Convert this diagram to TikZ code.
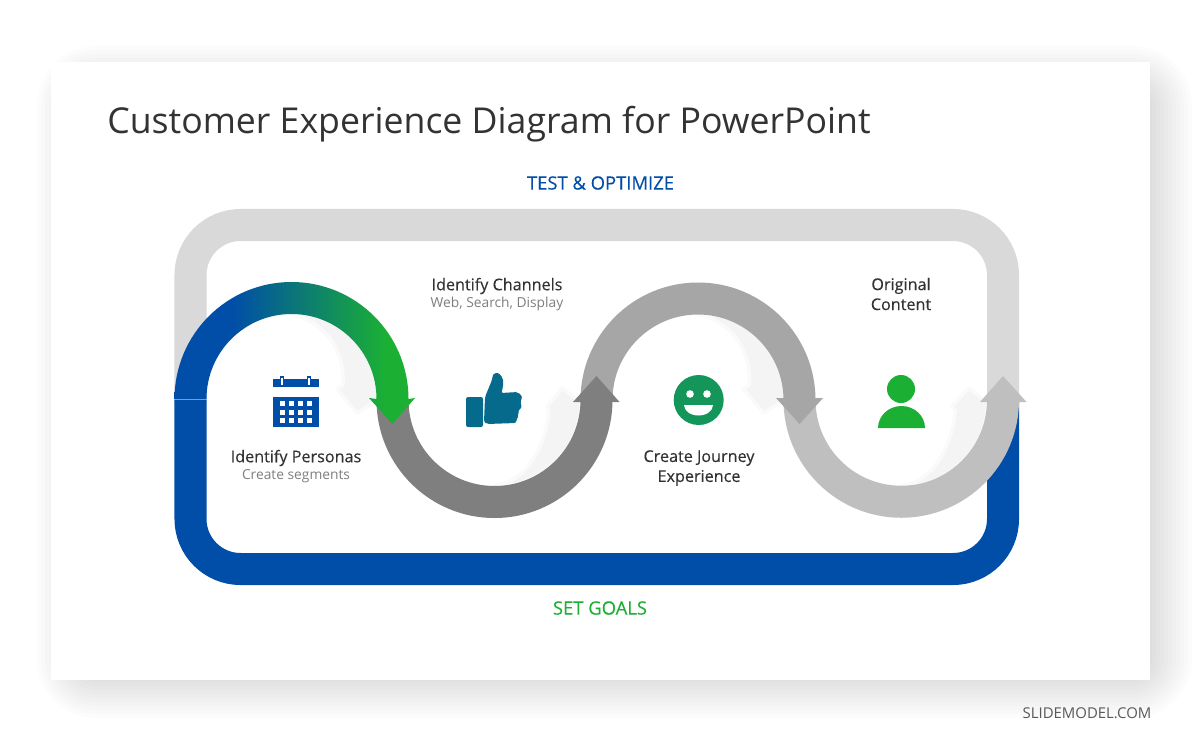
\documentclass[tikz,border=0pt]{standalone}
\usepackage{fontspec}
\setmainfont{Open Sans}
\newfontfamily\labelfont[FakeBold=0.25]{Open Sans}
\definecolor{archblue}{HTML}{004EA8}
\definecolor{archgreen}{HTML}{1BB034}
\definecolor{loopgray}{HTML}{D9D9D9}
\definecolor{darkgray}{HTML}{7F7F7F}
\definecolor{midgray}{HTML}{A6A6A6}
\definecolor{lightgray}{HTML}{BFBFBF}
\definecolor{ghostgray}{HTML}{F4F4F4}
\definecolor{ghostedge}{HTML}{FAFAFA}
\definecolor{inktext}{HTML}{333333}
\definecolor{subtext}{HTML}{7F7F7F}
\definecolor{thumbblue}{HTML}{066A8C}
\definecolor{smilegreen}{HTML}{14965A}
\pgfdeclarehorizontalshading{archshade}{100bp}{color(0bp)=(archblue); color(37bp)=(archblue); color(69bp)=(archgreen); color(100bp)=(archgreen)}
\tikzset{
    band/.style={draw=#1, line width=0.8cm},
    ghost/.style={fill=ghostgray, draw=ghostedge, line width=2.5pt, line join=round},
    heading/.style={font=\labelfont\fontsize{11.5}{14.2}\selectfont, text=inktext, align=center, inner sep=0},
    subheading/.style={font=\fontsize{9.8}{12}\selectfont, text=subtext, align=center, inner sep=0},
    looplabel/.style={font=\labelfont\fontsize{13.1}{15}\selectfont, inner sep=0}
}
\begin{document}
\begin{tikzpicture}[x=0.025cm, y=-0.025cm]
    \useasboundingbox (0, 0) rectangle (1200, 743);
    % slide and its shadow
    \foreach \e in {-28,-24,...,28} {
        \fill[black, opacity=0.012, rounded corners={(\e+32)*0.7pt}] (65-\e, 74-\e) rectangle (1164+\e, 690+\e);
    }
    \fill[white] (51, 62) rectangle (1150, 680);
    \node (title) at (107, 124) [anchor=west, inner sep=0, text=inktext, font=\fontsize{25.35}{30}\selectfont] {Customer Experience Diagram for PowerPoint};
    \node (testlabel) at (600.5, 183) [looplabel, text=archblue] {TEST \& OPTIMIZE};
    \node (goalslabel) at (600, 608) [looplabel, text=archgreen] {SET GOALS};
    \node (credit) at (1087, 713) [inner sep=0, text=black!65, font=\fontsize{10.6}{12}\selectfont] {SLIDEMODEL.COM};
    % outer loop
    \draw[band=loopgray] (190.5, 402) -- (190.5, 275) arc[start angle=180, end angle=270, radius=50] -- (953, 225) arc[start angle=270, end angle=360, radius=50] -- (1003, 402);
    \draw[band=archblue] (190.5, 399.7) -- (190.5, 519) arc[start angle=180, end angle=90, radius=50] -- (953, 569) arc[start angle=90, end angle=0, radius=50] -- (1003, 400);
    % soft shadows inside the curves
    \filldraw[ghost] (291.5, 314) .. controls (325, 322) and (345, 350) .. (343, 385) -- (337, 389) -- (357, 413) -- (381, 398) .. controls (381, 349) and (341, 312) .. cycle;
    \filldraw[ghost] (698, 314) .. controls (731.5, 322) and (751.5, 350) .. (749.5, 385) -- (743.5, 389) -- (763.5, 413) -- (787.5, 398) .. controls (787.5, 349) and (747.5, 312) .. cycle;
    \filldraw[ghost] (494.5, 486) .. controls (525, 482) and (545, 450) .. (549, 410) -- (547, 407) -- (562, 388) -- (581, 402) .. controls (581, 450) and (540, 488) .. cycle;
    \filldraw[ghost] (901, 486) .. controls (931.5, 482) and (951.5, 450) .. (955.5, 410) -- (951.5, 407) -- (968.5, 388) -- (987.5, 402) .. controls (987.5, 450) and (946.5, 488) .. cycle;
    % the four curved arrows
    \draw[band=lightgray] (799.5, 400) arc[start angle=180, end angle=0, radius=101.75];
    \fill[lightgray] (980, 402) -- (1003, 376) -- (1026.5, 402) -- cycle;
    \draw[band=midgray] (596.5, 400) arc[start angle=180, end angle=360, radius=101.5];
    \fill[midgray] (776, 398) -- (823, 398) -- (799.5, 424) -- cycle;
    \draw[band=darkgray] (392.5, 400) arc[start angle=180, end angle=0, radius=102];
    \fill[darkgray] (573, 402) -- (596.5, 376) -- (619.5, 402) -- cycle;
    \shade[shading=archshade] (174.5, 399) arc[start angle=180, end angle=360, radius=117] -- (415, 398) -- (392.5, 424) -- (369, 398) -- (376.5, 399) arc[start angle=360, end angle=180, radius=85] -- cycle;
    % calendar
    \fill[archblue] (273, 379) rectangle (319, 387);
    \foreach \x in {282, 309} {
        \fill[archblue] (\x-2, 376) rectangle (\x+2, 387);
        \fill[white] (\x-0.8, 378) rectangle (\x+0.8, 385);
    }
    \fill[archblue] (273, 397) rectangle (319, 427);
    \foreach \x in {280, 289, 298, 307} {
        \foreach \y in {401, 409.5, 418} {
            \fill[white] (\x, \y) rectangle (\x+5, \y+5);
        }
    }
    % thumb
    \fill[thumbblue, rounded corners=1.5pt] (466, 397) rectangle (483, 427);
    \fill[thumbblue, rounded corners=1.5pt] (485, 397) -- (492, 380) -- (493, 374) -- (498, 372.5) -- (503, 378) -- (503, 388) -- (501, 393) -- (518, 392) -- (522.5, 397) -- (520, 402) -- (522, 407) -- (518, 411) -- (519, 415) -- (517, 418) -- (516, 423) -- (487, 424) -- (484, 422) -- cycle;
    % smile
    \fill[smilegreen] (698.7, 400) circle [radius=25];
    \fill[white] (690, 394) circle [radius=3.8];
    \fill[white] (707, 394) circle [radius=3.8];
    \fill[white] (684, 405) -- (713, 405) arc[start angle=0, end angle=180, x radius=14.5, y radius=10.5] -- cycle;
    % person
    \fill[archgreen] (901, 389) circle [radius=14];
    \fill[archgreen] (878, 428) arc[start angle=180, end angle=360, x radius=23.5, y radius=22] -- cycle;
    % texts
    \node (personas) at (296, 458) [heading] {Identify Personas};
    \node (segments) at (296, 476) [subheading] {Create segments};
    \node (channels) at (497, 286) [heading] {Identify Channels};
    \node (display) at (497, 304) [subheading] {Web, Search, Display};
    \node (journey) at (699, 468) [heading] {Create Journey\\Experience};
    \node (content) at (901, 294) [heading] {Original\\Content};
\end{tikzpicture}
\end{document}
